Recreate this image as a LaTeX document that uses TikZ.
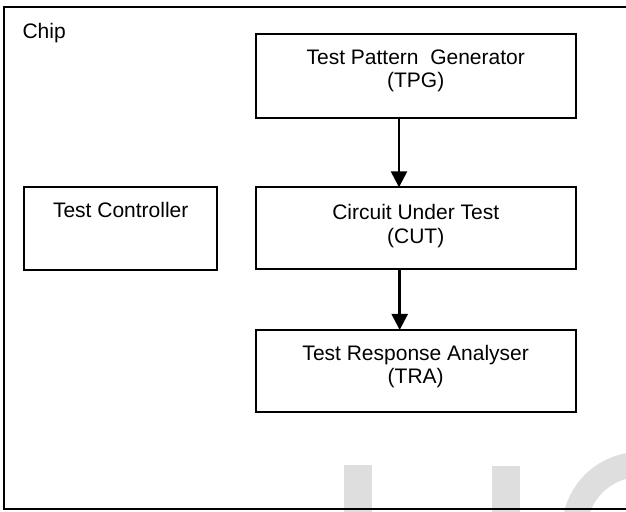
\documentclass[tikz,border=0pt]{standalone}
\usepackage{fontspec}
\setmainfont{Liberation Sans}
\usetikzlibrary{arrows.meta}

\definecolor{wmgray}{RGB}{222,222,222}

\tikzset{
  block/.style={draw, line width=2pt, rectangle, inner sep=0pt, outer sep=0pt},
  blocktext/.style={anchor=north, inner sep=0pt, align=center,
    font=\fontsize{21}{23.5}\selectfont},
  flow/.style={line width=2.5pt, -{Triangle[length=16pt,width=16pt]}},
}

\begin{document}
\begin{tikzpicture}[x=1pt, y=-1pt]
  \clip (0,0) rectangle (626,511);
  \fill[white] (0,0) rectangle (626,511);

  % faint background lettering
  \fill[wmgray] (344,465) rectangle (372.3,520);
  \fill[wmgray] (491.7,465.5) rectangle (520,520);
  \fill[wmgray, even odd rule] (640,530) circle[radius=78] (640,530) circle[radius=53];

  % chip outline (open to the right)
  \draw[line width=2pt] (4,7.3) rectangle (700,509.3);
  \node[anchor=base west, inner sep=0pt, font=\fontsize{21}{24}\selectfont] (chip) at (22.3,38.3) {Chip};

  % blocks
  \node[block, minimum width=320pt, minimum height=84.3pt] (tpg) at (415.7,75.9) {};
  \node[block, minimum width=320pt, minimum height=82pt] (cut) at (415.7,228.3) {};
  \node[block, minimum width=320pt, minimum height=81.7pt] (tra) at (415.7,370.8) {};
  \node[block, minimum width=192.7pt, minimum height=83.5pt] (ctl) at (120.6,228.3) {};

  % block labels
  \node[blocktext] (tpgtxt) at (415.7,49.3) {Test Pattern\ \ Generator\\(TPG)};
  \node[blocktext] (cuttxt) at (415.7,204.3) {Circuit Under Test\\(CUT)};
  \node[blocktext] (tratxt) at (415.7,345) {Test Response Analyser\\(TRA)};
  \node[blocktext] (ctltxt) at (120.7,202) {Test Controller};

  % data flow
  \draw[flow] ([xshift=-16.7pt]tpg.south) -- ([xshift=-16.7pt]cut.north);
  \draw[flow] ([xshift=-16.0pt]cut.south) -- ([xshift=-16.0pt]tra.north);
\end{tikzpicture}
\end{document}
